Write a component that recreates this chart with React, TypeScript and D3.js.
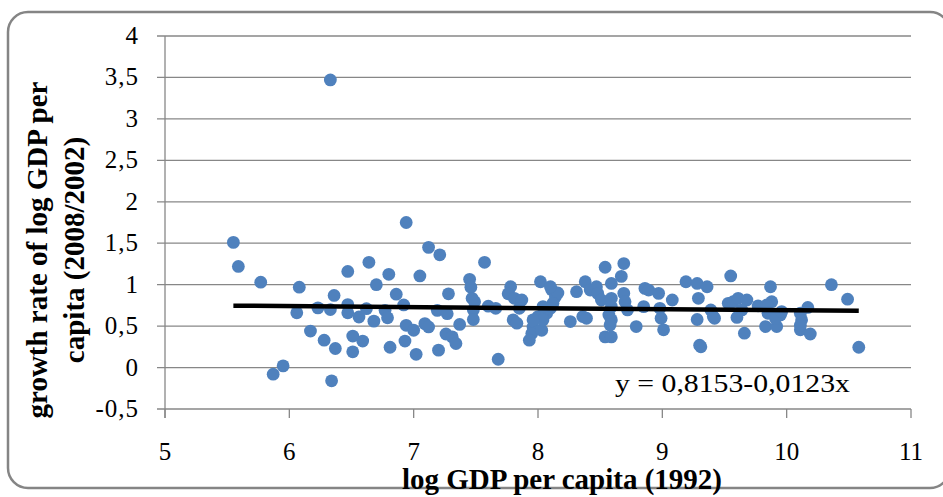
import React, { useEffect, useRef } from "react";
import * as d3 from "d3";

// log GDP per capita (1992) for each country
const logGdp1992 = [
  5.55, 5.59, 5.77, 6.08, 6.06, 6.23, 6.33, 6.36, 6.47, 6.47, 6.47, 6.56, 6.62, 6.64,
  6.17, 6.28, 6.37, 6.51, 6.51, 6.59, 5.95, 5.87, 6.34, 6.70, 6.80, 6.68, 6.77, 6.79,
  6.86, 6.92, 6.81, 6.93, 6.94, 7.00, 7.02, 7.05, 7.12, 7.21, 7.09, 7.12, 7.19, 7.27,
  7.28, 7.20, 7.26, 7.31, 7.34, 7.37, 7.45, 7.46, 7.47, 7.49, 7.48, 7.48, 7.57, 7.60,
  7.66, 7.68, 7.78, 7.76, 7.81, 7.87, 7.85, 7.80, 7.83, 8.02, 8.00, 7.96, 7.95, 7.93,
  8.03, 8.11, 8.14, 8.16, 8.12, 8.07, 8.04, 8.26, 8.31, 8.38, 8.42, 8.47, 8.48, 8.51,
  8.36, 8.39, 8.54, 8.69, 8.67, 8.59, 8.69, 8.70, 8.59, 8.57, 8.59, 8.58, 8.54, 8.59,
  8.72, 8.79, 8.86, 8.89, 8.85, 8.97, 8.98, 8.99, 9.01, 9.08, 9.19, 9.28, 9.36, 9.29,
  9.28, 9.30, 9.31, 9.39, 9.41, 9.42, 9.55, 9.53, 9.57, 9.61, 9.68, 9.64, 9.60, 9.66,
  9.77, 9.87, 9.88, 9.84, 9.85, 9.95, 9.83, 9.92, 9.91, 9.96, 10.12, 10.11, 10.17, 10.19,
  10.11, 10.36, 10.49, 10.58, 6.33, 6.94, 8.10, 8.04, 7.96, 8.59, 8.10, 10.11,
];

// growth rate of log GDP per capita (2008/2002)
const growthRate = [
  1.51, 1.22, 1.03, 0.97, 0.66, 0.72, 0.70, 0.87, 0.76, 0.66, 1.16, 0.61, 0.71, 1.27,
  0.44, 0.33, 0.23, 0.38, 0.19, 0.32, 0.02, -0.08, -0.16, 1.00, 1.125, 0.56, 0.69, 0.60,
  0.885, 0.755, 0.245, 0.32, 0.51, 0.45, 0.16, 1.105, 1.45, 1.36, 0.53, 0.49, 0.69, 0.65,
  0.89, 0.21, 0.405, 0.37, 0.29, 0.52, 1.065, 0.97, 0.835, 0.795, 0.695, 0.58, 1.27, 0.74,
  0.715, 0.10, 0.975, 0.89, 0.835, 0.815, 0.715, 0.575, 0.535, 1.035, 0.615, 0.49, 0.41, 0.33,
  0.45, 0.94, 0.855, 0.90, 0.775, 0.655, 0.575, 0.555, 0.915, 1.035, 0.935, 0.975, 0.895, 0.815,
  0.615, 0.595, 1.21, 1.255, 1.10, 1.015, 0.895, 0.795, 0.735, 0.635, 0.575, 0.515, 0.37, 0.37,
  0.695, 0.495, 0.955, 0.935, 0.735, 0.895, 0.715, 0.595, 0.455, 0.815, 1.035, 1.015, 0.975, 0.835,
  0.58, 0.27, 0.25, 0.695, 0.615, 0.595, 1.105, 0.775, 0.795, 0.835, 0.815, 0.695, 0.605, 0.415,
  0.745, 0.975, 0.795, 0.755, 0.655, 0.635, 0.495, 0.495, 0.595, 0.675, 0.575, 0.455, 0.725, 0.405,
  0.655, 1.00, 0.825, 0.245, 3.47, 1.75, 0.975, 0.735, 0.575, 0.835, 0.715, 0.51,
];

const xTicks = [5, 6, 7, 8, 9, 10, 11];
const yTicks = [-0.5, 0, 0.5, 1, 1.5, 2, 2.5, 3, 3.5, 4];

// fitted line y = a + b*x
const intercept = 0.8153;
const slope = -0.0123;

const fmt = (d: number) => String(d).replace(".", ",");

const ScatterChart = () => {
  const svgRef = useRef<SVGSVGElement | null>(null);

  useEffect(() => {
    const svg = d3.select(svgRef.current);
    svg.selectAll("*").remove();

    const W = 943, H = 497;
    const left = 165, right = 911, top = 36, bottom = 409;
    const grey = "#878787";
    const font = "'Liberation Serif', 'Times New Roman', serif";

    const x = d3.scaleLinear().domain([5, 11]).range([left, right]);
    const y = d3.scaleLinear().domain([-0.5, 4]).range([bottom, top]);

    svg.attr("width", W).attr("height", H);

    // outer frame
    svg.append("rect")
      .attr("x", 8).attr("y", 12)
      .attr("width", 942).attr("height", 476)
      .attr("rx", 20)
      .attr("fill", "white")
      .attr("stroke", "#858585")
      .attr("stroke-width", 2.5);

    // horizontal gridlines + left ticks
    svg.append("g")
      .selectAll("line")
      .data(yTicks)
      .enter()
      .append("line")
      .attr("x1", left - 8).attr("x2", right)
      .attr("y1", d => y(d)).attr("y2", d => y(d))
      .attr("stroke", grey)
      .attr("stroke-width", 1.3);

    // y axis line
    svg.append("line")
      .attr("x1", left).attr("x2", left)
      .attr("y1", top).attr("y2", bottom + 9)
      .attr("stroke", grey).attr("stroke-width", 1.3);

    // x ticks
    svg.append("g")
      .selectAll("line")
      .data(xTicks)
      .enter()
      .append("line")
      .attr("x1", d => x(d)).attr("x2", d => x(d))
      .attr("y1", bottom).attr("y2", bottom + 9)
      .attr("stroke", grey).attr("stroke-width", 1.3);

    // tick labels
    svg.append("g")
      .selectAll("text")
      .data(yTicks)
      .enter()
      .append("text")
      .attr("x", 139)
      .attr("y", d => y(d) + 8)
      .attr("text-anchor", "end")
      .style("font-family", font)
      .style("font-size", "25px")
      .style("letter-spacing", "1px")
      .text(d => fmt(d));

    svg.append("g")
      .selectAll("text")
      .data(xTicks)
      .enter()
      .append("text")
      .attr("x", d => x(d))
      .attr("y", 460)
      .attr("text-anchor", "middle")
      .style("font-family", font)
      .style("font-size", "25px")
      .text(d => fmt(d));

    // points
    svg.append("g")
      .selectAll("circle")
      .data(logGdp1992.map((v, i) => [v, growthRate[i]]))
      .enter()
      .append("circle")
      .attr("cx", d => x(d[0]))
      .attr("cy", d => y(d[1]))
      .attr("r", 6.4)
      .attr("fill", "#4f81bd");

    // trend line
    const x0 = d3.min(logGdp1992) as number;
    const x1 = d3.max(logGdp1992) as number;
    svg.append("line")
      .attr("x1", x(x0)).attr("y1", y(intercept + slope * x0))
      .attr("x2", x(x1)).attr("y2", y(intercept + slope * x1))
      .attr("stroke", "black")
      .attr("stroke-width", 4.5);

    svg.append("text")
      .attr("x", 615).attr("y", 392)
      .attr("textLength", 235)
      .attr("lengthAdjust", "spacingAndGlyphs")
      .style("font-family", font)
      .style("font-size", "25px")
      .text("y = 0,8153-0,0123x");

    // axis titles
    svg.append("text")
      .attr("x", 562).attr("y", 489)
      .attr("text-anchor", "middle")
      .style("font-family", font)
      .style("font-size", "29px")
      .style("font-weight", "bold")
      .text("log GDP per capita (1992)");

    const yTitle = svg.append("g")
      .style("font-family", font)
      .style("font-size", "29px")
      .style("font-weight", "bold")
      .attr("text-anchor", "middle");
    yTitle.append("text")
      .attr("transform", "translate(47,250) rotate(-90)")
      .text("growth rate of log GDP per");
    yTitle.append("text")
      .attr("transform", "translate(84,250) rotate(-90)")
      .text("capita (2008/2002)");
  }, []);

  return (
    <svg ref={svgRef} style={{ position: "absolute", left: 0, top: 0 }}></svg>
  );
};

export default function App() {
  return <ScatterChart />;
}
